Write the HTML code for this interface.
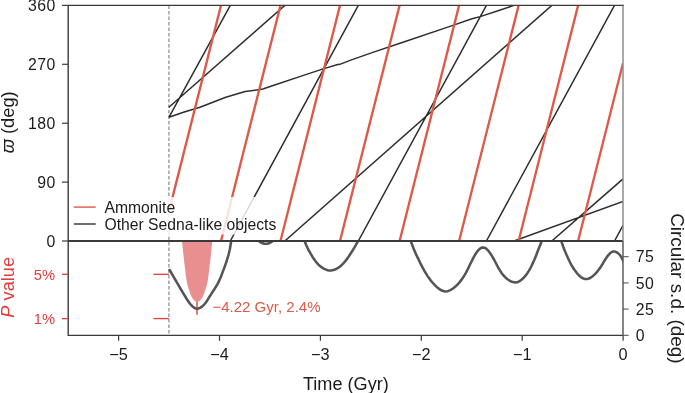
<!DOCTYPE html>
<html><head><meta charset="utf-8"><title>Figure</title>
<style>
html,body{margin:0;padding:0;background:#fff}
svg{display:block}
text{font-family:"Liberation Sans",sans-serif;fill:#1c1c1c}
.t{font-size:15.8px}
.n{letter-spacing:0.45px}
.a{font-size:17.6px}
.r{fill:#e03c3c}
</style></head><body>
<svg width="685" height="393" viewBox="0 0 685 393">
<defs><clipPath id="lo"><rect x="68.0" y="241.0" width="555.0" height="94.39999999999998"/></clipPath>
<clipPath id="up"><rect x="68.0" y="5.4" width="555.0" height="235.6"/></clipPath></defs>
<rect width="685" height="393" fill="#fff"/>

<line x1="168.9" y1="5.4" x2="168.9" y2="335.4" stroke="#a6a6a6" stroke-width="1.6" stroke-dasharray="3.6 1.9"/>
<g clip-path="url(#up)" fill="none" stroke-linecap="butt">
<path d="M168.9 117.3L230.3 5.4 M230.3 241L358.3 5.4 M358.3 241L486.4 5.4 M486.4 241L614.5 5.4 M614.5 241L623 225.4 M168.9 107.2L284.8 5.4 M284.8 241L551.8 5.4 M551.8 241L623 178.9 M168.9 117.3 L185 111.8 L200 107.3 L225.1 97.5 L240 93 L245.2 91.5 L255 90.2 L262.8 89 L275.4 84.7 L300.5 76.4 L323.1 68.9 L336.9 64.7 L341 63.9 L350.8 60.1 L372.1 52.6 L400 43.2 L450 26.4 L472 18.8 L480.2 16.6 L500.3 10 L514 5.4 M514 241L623 201.5" stroke="#2e2e2e" stroke-width="1.5" stroke-linejoin="round"/>
<path d="M168.9 211.6L221 5.4 M221 241L280.5 5.4 M280.5 241L340 5.4 M340 241L399.6 5.4 M399.6 241L459.1 5.4 M459.1 241L518.6 5.4 M518.6 241L578.1 5.4 M578.1 241L623 63.3" stroke="#de5a48" stroke-width="2.35"/>
</g>
<rect x="69" y="197" width="211" height="37.6" fill="#fff" fill-opacity="0.82"/>
<line x1="73.8" y1="207.1" x2="95.7" y2="207.1" stroke="#de5a48" stroke-width="1.4"/>
<line x1="73.8" y1="224" x2="95.7" y2="224" stroke="#2e2e2e" stroke-width="1.4"/>
<text class="t" x="104.5" y="213" style="font-size:15.7px">Ammonite</text>
<text class="t" x="104.5" y="229.9" style="font-size:15.7px">Other Sedna-like objects</text>
<line x1="197" y1="301" x2="197" y2="314.7" stroke="#de5a48" stroke-width="1.6"/>
<g clip-path="url(#lo)">
<path d="M181.9 241 L182.3 244.1 L182.6 247.1 L182.9 250 L183.2 252.9 L183.5 255.6 L183.8 258.3 L184.1 260.9 L184.4 263.4 L184.7 265.9 L185 268.2 L185.2 270.5 L185.5 272.7 L185.7 274.8 L186 276.9 L186.3 278.8 L186.6 280.7 L186.9 282.5 L187.3 284.2 L187.8 285.9 L188.2 287.4 L188.7 288.9 L189.1 290.3 L189.5 291.6 L189.9 292.9 L190.3 294.1 L190.8 295.1 L191.2 296.1 L191.7 297.1 L192.2 297.9 L192.7 298.7 L193.3 299.3 L193.8 299.9 L194.3 300.5 L194.8 300.9 L195.3 301.3 L195.8 301.5 L196.3 301.7 L196.7 301.9 L197.2 301.9 L197.2 301.9 L197.6 301.9 L198 301.7 L198.5 301.5 L199 301.3 L199.5 300.9 L200 300.5 L200.5 299.9 L201 299.3 L201.6 298.7 L202.1 297.9 L202.6 297.1 L203.1 296.1 L203.5 295.1 L204 294.1 L204.4 292.9 L204.8 291.6 L205.2 290.3 L205.6 288.9 L206.1 287.4 L206.5 285.9 L207 284.2 L207.4 282.5 L207.7 280.7 L208 278.8 L208.3 276.9 L208.6 274.8 L208.8 272.7 L209.1 270.5 L209.3 268.2 L209.6 265.9 L209.9 263.4 L210.2 260.9 L210.5 258.3 L210.8 255.6 L211.1 252.9 L211.4 250 L211.7 247.1 L212 244.1 L212.4 241Z" fill="#e98f8f"/>
<path d="M169 269.1 L169.9 270.5 L170.8 272 L171.6 273.4 L172.5 274.9 L173.3 276.4 L174.2 277.8 L175 279.3 L175.9 280.7 L176.7 282.2 L177.6 283.7 L178.4 285.1 L179.3 286.6 L180.1 288 L181 289.5 L181.9 290.9 L182.7 292.4 L183.6 293.8 L184.5 295.3 L185.4 296.7 L186.2 298.2 L187.1 299.6 L188.1 301 L189 302.4 L190 303.7 L191.1 305 L192.3 306.2 L193.7 307.4 L195.2 308.3 L196.8 308.7 L198.4 308.5 L200 307.9 L201.5 306.9 L202.9 305.8 L204.1 304.6 L205.2 303.3 L206.2 302 L207.1 300.6 L208 299.2 L208.9 297.7 L209.8 296.3 L210.7 294.9 L211.6 293.4 L212.5 292 L213.5 290.6 L214.4 289.2 L215.3 287.7 L216.2 286.3 L217 284.9 L217.9 283.4 L218.6 281.9 L219.3 280.4 L220 278.8 L220.7 277.3 L221.3 275.7 L221.9 274.1 L222.5 272.5 L223.1 270.9 L223.7 269.4 L224.3 267.8 L224.9 266.2 L225.4 264.6 L226 263 L226.5 261.4 L227 259.8 L227.5 258.2 L228 256.5 L228.5 254.9 L228.9 253.3 L229.3 251.6 L229.7 250 L230 248.3 L230.3 246.7 L230.6 245 L230.9 243.3 L231.1 241.7 L231.4 240 L231.7 238.3 L231.9 236.7 L232.2 235 M257.5 238 L257.6 238.3 L257.6 238.6 L257.7 238.8 L257.8 239.1 L257.9 239.4 L258 239.6 L258.2 239.9 L258.3 240.1 L258.4 240.3 L258.6 240.5 L258.8 240.7 L258.9 240.9 L259.1 241.1 L259.3 241.3 L259.5 241.5 L259.7 241.7 L260 241.9 L260.2 242 L260.4 242.2 L260.6 242.3 L260.9 242.5 L261.1 242.6 L261.4 242.7 L261.6 242.8 L261.9 242.9 L262.1 243.1 L262.4 243.2 L262.7 243.3 L262.9 243.3 L263.2 243.4 L263.4 243.5 L263.7 243.6 L264 243.6 L264.3 243.7 L264.5 243.7 L264.8 243.7 L265.1 243.8 L265.3 243.8 L265.6 243.8 L265.9 243.8 L266.2 243.8 L266.4 243.8 L266.7 243.7 L267 243.7 L267.2 243.7 L267.5 243.6 L267.8 243.6 L268.1 243.5 L268.3 243.4 L268.6 243.3 L268.8 243.3 L269.1 243.2 L269.4 243.1 L269.6 242.9 L269.9 242.8 L270.1 242.7 L270.4 242.6 L270.6 242.5 L270.9 242.3 L271.1 242.2 L271.3 242 L271.5 241.9 L271.8 241.7 L272 241.5 L272.2 241.3 L272.4 241.1 L272.6 240.9 L272.7 240.7 L272.9 240.5 L273.1 240.3 L273.2 240.1 L273.3 239.9 L273.5 239.6 L273.6 239.4 L273.7 239.1 L273.8 238.8 L273.9 238.6 L273.9 238.3 L274 238 M303 236 L303.3 237.1 L303.7 238.2 L304 239.4 L304.4 240.5 L304.8 241.6 L305.2 242.6 L305.7 243.7 L306.1 244.8 L306.6 245.9 L307.1 246.9 L307.6 248 L308.1 249 L308.6 250.1 L309.2 251.1 L309.8 252.1 L310.3 253.2 L310.9 254.2 L311.5 255.2 L312.1 256.2 L312.7 257.2 L313.4 258.2 L314 259.1 L314.7 260.1 L315.4 261 L316.1 262 L316.8 262.8 L317.6 263.7 L318.4 264.6 L319.3 265.4 L320.2 266.2 L321.2 266.9 L322.2 267.6 L323.2 268.3 L324.3 268.9 L325.4 269.4 L326.5 269.8 L327.6 270.2 L328.7 270.4 L329.9 270.5 L331 270.5 L332.2 270.3 L333.3 270.1 L334.4 269.7 L335.5 269.3 L336.6 268.7 L337.7 268.1 L338.7 267.5 L339.7 266.8 L340.6 266 L341.5 265.2 L342.3 264.4 L343.2 263.6 L344 262.7 L344.7 261.8 L345.5 260.9 L346.2 260 L346.9 259.1 L347.5 258.1 L348.2 257.2 L348.9 256.2 L349.5 255.2 L350.2 254.2 L350.8 253.3 L351.4 252.3 L352.1 251.3 L352.7 250.3 L353.3 249.3 L353.9 248.3 L354.5 247.3 L355.1 246.3 L355.7 245.3 L356.2 244.3 L356.8 243.2 L357.4 242.2 L357.9 241.2 L358.4 240.1 L359 239.1 L359.5 238.1 L360 237 M409.3 236 L410.1 238.8 L411 241.6 L412 244.4 L413 247.1 L414.2 249.9 L415.3 252.6 L416.5 255.2 L417.8 257.9 L419.1 260.5 L420.3 263.1 L421.6 265.6 L422.9 268.2 L424.3 270.7 L425.8 273.1 L427.3 275.6 L429 278.1 L430.8 280.6 L432.9 283 L435.1 285.4 L437.4 287.6 L439.9 289.5 L442.5 290.8 L445.1 291.4 L447.8 291.2 L450.4 290.1 L453 288.5 L455.4 286.5 L457.7 284.3 L459.7 282.1 L461.4 279.9 L463 277.6 L464.5 275.2 L465.9 272.8 L467.3 270.2 L468.6 267.5 L470 264.5 L471.6 261.4 L473.2 258.1 L474.9 255 L476.7 252.2 L478.6 249.9 L480.5 248.2 L482.5 247.4 L484.5 247.7 L486.5 248.9 L488.5 250.9 L490.4 253.5 L492.2 256.4 L494 259.5 L495.6 262.5 L497 265.3 L498.4 268 L499.9 270.4 L501.4 272.8 L503.1 275 L505.2 277.2 L507.5 279.2 L510.1 281 L512.8 282.1 L515.6 282.5 L518.2 281.9 L520.8 280.4 L523.1 278.3 L525.3 275.9 L527.2 273.4 L528.8 270.9 L530.3 268.3 L531.6 265.7 L532.8 263.1 L534 260.5 L535.1 257.9 L536.2 255.2 L537.2 252.5 L538.3 249.7 L539.4 247 L540.5 244.3 L541.5 241.5 L542.5 238.8 L543.5 236 M560 236 L560.3 237.3 L560.6 238.6 L561 239.9 L561.4 241.3 L561.8 242.6 L562.2 243.8 L562.7 245.1 L563.1 246.4 L563.6 247.7 L564.1 249 L564.6 250.2 L565.1 251.5 L565.7 252.7 L566.2 254 L566.7 255.2 L567.3 256.4 L567.8 257.7 L568.4 258.9 L569 260.1 L569.5 261.3 L570.1 262.5 L570.7 263.6 L571.3 264.8 L572 266 L572.7 267.2 L573.4 268.3 L574.2 269.5 L575 270.6 L575.9 271.8 L576.8 273 L577.8 274.1 L578.8 275.2 L579.9 276.2 L581 277.1 L582.2 277.9 L583.4 278.5 L584.6 278.9 L585.8 279.1 L587 279 L588.2 278.8 L589.5 278.3 L590.7 277.6 L591.9 276.8 L593 275.9 L594.1 274.9 L595.2 273.9 L596.2 272.8 L597.1 271.8 L597.9 270.7 L598.7 269.7 L599.5 268.6 L600.3 267.6 L601 266.5 L601.7 265.4 L602.4 264.3 L603.1 263.1 L603.8 261.9 L604.6 260.6 L605.4 259.3 L606.3 258 L607.1 256.7 L608.1 255.4 L609.1 254.3 L610.1 253.2 L611.1 252.4 L612.3 251.8 L613.4 251.5 L614.6 251.5 L615.8 251.9 L617.1 252.5 L618.2 253.4 L619.3 254.4 L620.2 255.4 L621 256.6 L621.6 257.7 L622.2 259 L622.8 260.2 L623.4 261.4 L624 262.6" fill="none" stroke="#555" stroke-width="2.55" stroke-linejoin="round"/>
</g>
<text class="t" x="212.5" y="312.3" style="fill:#de5a48;font-size:15px">−4.22 Gyr, 2.4%</text>
<g stroke="#3a3a3a" stroke-width="1.2" fill="none">
<line x1="68.2" y1="4.9" x2="68.2" y2="336.0" stroke-width="1.4"/>
<line x1="68.0" y1="5.4" x2="624.0" y2="5.4"/>
<line x1="68.0" y1="241.05" x2="623.0" y2="241.05" stroke-width="1.9"/>
<line x1="68.0" y1="335.4" x2="623.6" y2="335.4"/>
<line x1="62" y1="241" x2="68.0" y2="241"/>
<line x1="62" y1="182.1" x2="68.0" y2="182.1"/>
<line x1="62" y1="123.2" x2="68.0" y2="123.2"/>
<line x1="62" y1="64.3" x2="68.0" y2="64.3"/>
<line x1="62" y1="5.4" x2="68.0" y2="5.4"/>
<line x1="118.6" y1="335.4" x2="118.6" y2="340.8"/>
<line x1="219.5" y1="335.4" x2="219.5" y2="340.8"/>
<line x1="320.4" y1="335.4" x2="320.4" y2="340.8"/>
<line x1="421.3" y1="335.4" x2="421.3" y2="340.8"/>
<line x1="522.2" y1="335.4" x2="522.2" y2="340.8"/>
<line x1="623.1" y1="335.4" x2="623.1" y2="340.8"/>
</g>
<g stroke="#606060" stroke-width="1.5" fill="none">
<line x1="623.0" y1="5.4" x2="623.0" y2="241.0" stroke="#8c8c8c"/>
<line x1="623.0" y1="241.0" x2="623.0" y2="336.0" stroke="#5c5c5c"/>
<line x1="623.0" y1="335.3" x2="628.6" y2="335.3" stroke-width="1.1" stroke="#555"/>
<line x1="623.0" y1="309.1" x2="628.6" y2="309.1" stroke-width="1.1" stroke="#555"/>
<line x1="623.0" y1="282.9" x2="628.6" y2="282.9" stroke-width="1.1" stroke="#555"/>
<line x1="623.0" y1="256.7" x2="628.6" y2="256.7" stroke-width="1.1" stroke="#555"/>
</g>
<g stroke="#e03c3c" stroke-width="1.3">
<line x1="62" y1="274.3" x2="68.0" y2="274.3"/>
<line x1="153.4" y1="274.3" x2="168.9" y2="274.3"/>
<line x1="62" y1="318.6" x2="68.0" y2="318.6"/>
<line x1="153.4" y1="318.6" x2="168.9" y2="318.6"/>
</g>
<text class="t n" x="55.7" y="246.5" text-anchor="end">0</text>
<text class="t n" x="55.7" y="187.6" text-anchor="end">90</text>
<text class="t n" x="55.7" y="128.7" text-anchor="end">180</text>
<text class="t n" x="55.7" y="69.8" text-anchor="end">270</text>
<text class="t n" x="55.7" y="10.9" text-anchor="end">360</text>
<text class="t r" x="55" y="279.6" text-anchor="end" style="font-size:14.7px">5%</text>
<text class="t r" x="55" y="323.9" text-anchor="end" style="font-size:14.7px">1%</text>
<text class="t" x="118.6" y="359.8" text-anchor="middle" style="font-size:16.3px">−5</text>
<text class="t" x="219.5" y="359.8" text-anchor="middle" style="font-size:16.3px">−4</text>
<text class="t" x="320.4" y="359.8" text-anchor="middle" style="font-size:16.3px">−3</text>
<text class="t" x="421.3" y="359.8" text-anchor="middle" style="font-size:16.3px">−2</text>
<text class="t" x="522.2" y="359.8" text-anchor="middle" style="font-size:16.3px">−1</text>
<text class="t" x="623.1" y="359.8" text-anchor="middle" style="font-size:16.3px">0</text>
<text class="t n" x="635.8" y="340.9">0</text>
<text class="t n" x="635.8" y="314.7">25</text>
<text class="t n" x="635.8" y="288.5">50</text>
<text class="t n" x="635.8" y="262.3">75</text>
<text class="a" transform="translate(345.9 389.8) scale(1.03 1)" text-anchor="middle">Time (Gyr)</text>
<text class="a" transform="translate(14.2 122.3) rotate(-90) scale(1.04 1)" text-anchor="middle"><tspan font-style="italic">ϖ</tspan> (deg)</text>
<text class="a r" transform="translate(14 287.3) rotate(-90) scale(1.035 1)" text-anchor="middle"><tspan font-style="italic">P</tspan> value</text>
<text class="a" transform="translate(670.7 288.4) rotate(90) scale(1.03 1)" text-anchor="middle" style="font-size:18.4px">Circular s.d. (deg)</text>
</svg></body></html>
